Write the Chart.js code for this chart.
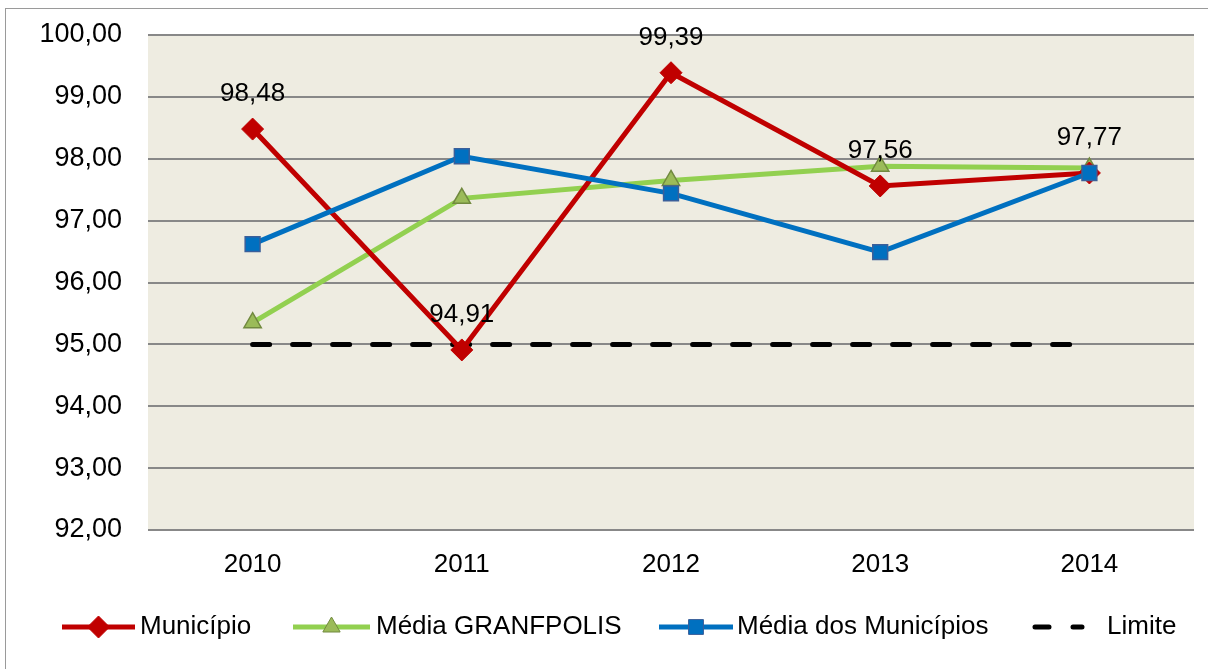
<!DOCTYPE html>
<html>
<head>
<meta charset="utf-8">
<script src="https://cdn.jsdelivr.net/npm/chart.js@4"></script>
<style>
  html, body { margin: 0; padding: 0; background: #fff; overflow: hidden; }
  #frame { position: absolute; left: 5px; top: 8px; width: 1210px; height: 670px;
           border-left: 1px solid #9a9a9a; border-top: 1px solid #9a9a9a; }
  #wrap { position: absolute; left: 0; top: 0; width: 1208px; height: 669px; }
</style>
</head>
<body>
<div id="frame"></div>
<div id="wrap"><canvas id="chart"></canvas></div>
<script>
document.addEventListener('DOMContentLoaded', function () {

    // --- data ---
    const years = ['2010', '2011', '2012', '2013', '2014'];
    const municipio = [98.48, 94.91, 99.39, 97.56, 97.77];
    const mediaGranfpolis = [95.35, 97.36, 97.65, 97.88, 97.85];
    const mediaMunicipios = [96.62, 98.04, 97.44, 96.49, 97.77];
    const limite = [95, 95, 95, 95, 95];
    const yTicks = [92, 93, 94, 95, 96, 97, 98, 99, 100];

    const FONT = '"Liberation Sans", Arial, sans-serif';
    const fmt = v => v.toFixed(2).replace('.', ',');

    // plot background
    const plotBg = {
        id: 'plotBg',
        beforeDraw(chart) {
            const a = chart.chartArea, ctx = chart.ctx;
            ctx.save();
            ctx.fillStyle = '#EEECE1';
            ctx.fillRect(a.left, a.top, a.right - a.left, a.bottom - a.top);
            ctx.restore();
        }
    };

    // value labels above the Município points
    const valueLabels = {
        id: 'valueLabels',
        afterDatasetsDraw(chart) {
            const ctx = chart.ctx;
            const meta = chart.getDatasetMeta(0);
            ctx.save();
            ctx.font = '26px ' + FONT;
            ctx.fillStyle = '#000';
            ctx.textAlign = 'center';
            ctx.textBaseline = 'middle';
            meta.data.forEach((pt, i) => {
                ctx.fillText(fmt(municipio[i]), pt.x, pt.y - 35);
            });
            ctx.restore();
        }
    };

    // legend drawn at the bottom, like the office chart
    const bottomLegend = {
        id: 'bottomLegend',
        afterDraw(chart) {
            const ctx = chart.ctx;
            const y = 627;
            const items = [
                { ds: 0, x0: 62, x1: 135, tx: 140 },
                { ds: 1, x0: 293, x1: 370, tx: 376 },
                { ds: 2, x0: 659, x1: 733, tx: 737 },
                { ds: 3, x0: 1032, x1: 1082, tx: 1107 }
            ];
            ctx.save();
            items.forEach(it => {
                const d = chart.data.datasets[it.ds];
                ctx.strokeStyle = d.borderColor;
                ctx.lineWidth = d.borderWidth;
                ctx.lineCap = it.ds === 3 ? 'round' : 'butt';
                ctx.setLineDash(it.ds === 3 ? [14, 24] : []);
                ctx.beginPath();
                ctx.moveTo(it.ds === 3 ? it.x0 + 3 : it.x0, y);
                ctx.lineTo(it.x1, y);
                ctx.stroke();
                ctx.setLineDash([]);
                if (d.pointStyle && d.pointRadius > 0) {
                    const cx = (it.x0 + it.x1) / 2;
                    ctx.lineWidth = 1;
                    ctx.fillStyle = d.pointBackgroundColor;
                    ctx.strokeStyle = d.pointBorderColor;
                    Chart.helpers.drawPoint(ctx, {
                        pointStyle: d.pointStyle,
                        radius: d.pointRadius,
                        borderWidth: 1,
                        rotation: 0
                    }, cx, y);
                }
                ctx.font = '26px ' + FONT;
                ctx.fillStyle = '#000';
                ctx.textAlign = 'left';
                ctx.textBaseline = 'middle';
                ctx.fillText(d.label, it.tx, y);
            });
            ctx.restore();
        }
    };

    const ctxEl = document.getElementById('chart');
    new Chart(ctxEl.getContext('2d'), {
        type: 'line',
        data: {
            labels: years,
            datasets: [
                {
                    label: 'Município',
                    data: municipio,
                    borderColor: '#C00000',
                    borderWidth: 5,
                    pointStyle: 'rectRot',
                    pointRadius: 11,
                    pointBackgroundColor: '#C00000',
                    pointBorderColor: '#C00000',
                    pointBorderWidth: 1,
                    order: 1
                },
                {
                    label: 'Média GRANFPOLIS',
                    data: mediaGranfpolis,
                    borderColor: '#92D050',
                    borderWidth: 5,
                    pointStyle: 'triangle',
                    pointRadius: 10,
                    pointBackgroundColor: '#9BBB59',
                    pointBorderColor: '#71893F',
                    pointBorderWidth: 1.5,
                    order: 2
                },
                {
                    label: 'Média dos Municípios',
                    data: mediaMunicipios,
                    borderColor: '#0070C0',
                    borderWidth: 5,
                    pointStyle: 'rect',
                    pointRadius: 10.5,
                    pointBackgroundColor: '#0070C0',
                    pointBorderColor: '#3A5F9A',
                    pointBorderWidth: 1.5,
                    order: 0
                },
                {
                    label: 'Limite',
                    data: limite,
                    borderColor: '#000000',
                    borderWidth: 5,
                    borderDash: [17, 23],
                    borderCapStyle: 'round',
                    pointRadius: 0,
                    pointStyle: false,
                    order: 3
                }
            ]
        },
        options: {
            responsive: true,
            maintainAspectRatio: false,
            animation: false,
            layout: { padding: { left: 0, right: 14, top: 35, bottom: 79 } },
            plugins: {
                legend: { display: false },
                tooltip: { enabled: false }
            },
            scales: {
                x: {
                    offset: true,
                    grid: { display: false, drawTicks: false },
                    border: { display: false },
                    afterFit: axis => { axis.height = 60; axis.paddingLeft = 0; axis.paddingRight = 0; },
                    ticks: { color: '#000', font: { family: FONT, size: 26 }, padding: 19 }
                },
                y: {
                    min: 92,
                    max: 100,
                    afterBuildTicks: axis => { axis.ticks = yTicks.map(v => ({ value: v })); },
                    afterFit: axis => { axis.width = 148; axis.paddingTop = 0; axis.paddingBottom = 0; },
                    grid: { color: '#888888', lineWidth: 2, drawTicks: false },
                    border: { display: false },
                    ticks: {
                        color: '#000',
                        font: { family: FONT, size: 27 },
                        padding: 26,
                        callback: v => fmt(v)
                    }
                }
            }
        },
        plugins: [plotBg, valueLabels, bottomLegend]
    });
});
</script>
</body>
</html>
